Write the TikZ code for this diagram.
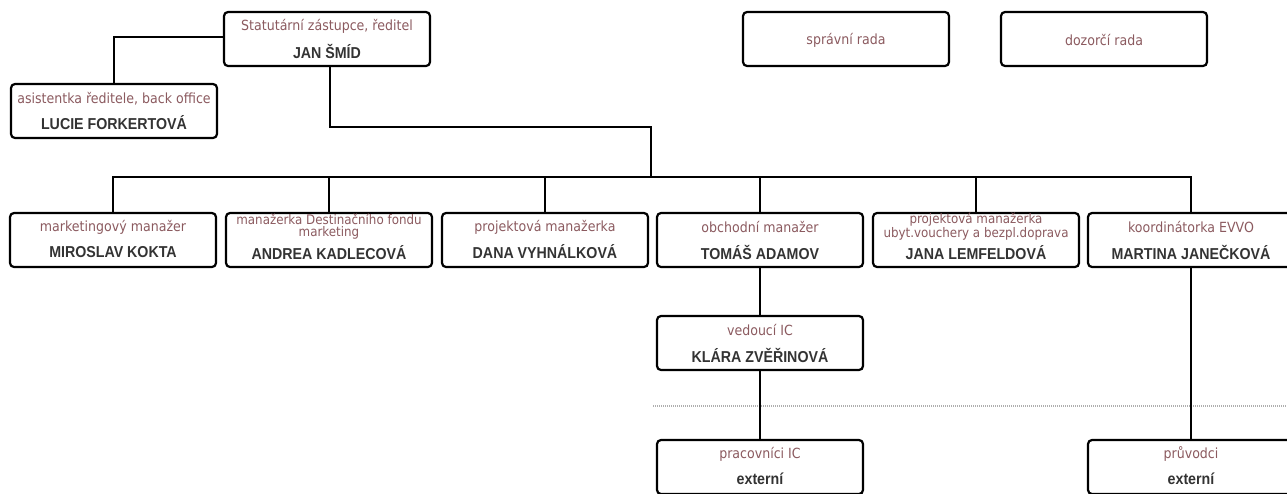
\documentclass[tikz,border=0pt]{standalone}
\usepackage{fontspec}
\setmainfont{Liberation Sans}
\newfontfamily\rolefont[FakeStretch=0.9]{DejaVu Sans}
\newfontfamily\namefont[FakeStretch=0.9]{Liberation Sans}
\definecolor{rolec}{RGB}{139,90,95}
\definecolor{namec}{RGB}{51,51,51}
\definecolor{dotc}{RGB}{175,175,175}
\begin{document}
\begin{tikzpicture}[x=1pt,y=-1pt,
  box/.style={draw, line width=2.2pt, rounded corners=4pt, minimum width=206pt, minimum height=54pt, inner sep=0pt},
  role/.style={font=\rolefont\fontsize{14}{11.5}\selectfont, text=rolec, inner sep=0pt, align=center},
  role2/.style={font=\rolefont\fontsize{13.2}{12.2}\selectfont, text=rolec, inner sep=0pt, align=center},
  pname/.style={font=\namefont\bfseries\fontsize{15.8}{15.8}\selectfont, text=namec, inner sep=0pt},
  conn/.style={line width=2.2pt, line join=miter},
  sep/.style={draw=dotc, line width=1.4pt, dash pattern=on 1pt off 1pt}]
\useasboundingbox (0,0) rectangle (1287,493);
\clip (0,0) rectangle (1287,493);
% top
\node[box] (ceo) at (327,39) {};
\node[role] (ceor) at (327,26) {Statutární zástupce, ředitel};
\node[pname] (ceon) at (327,51) {JAN ŠMÍD};
\node[box] (lf) at (114,111) {};
\node[role] (lfr) at (114,99) {asistentka ředitele, back office};
\node[pname] (lfn) at (114,123) {LUCIE FORKERTOVÁ};
\node[box] (sr) at (846,39) {};
\node[role] (srr) at (846,40) {správní rada};
\node[box] (dr) at (1104,39) {};
\node[role] (drr) at (1104,40) {dozorčí rada};
% row
\node[box] (mk) at (113,240) {};
\node[role] (mkr) at (113,227) {marketingový manažer};
\node[pname] (mkn) at (113,252) {MIROSLAV KOKTA};
\node[box] (ak) at (329,240) {};
\node[role2] (akr) at (329,226.5) {manažerka Destinačního fondu\\marketing};
\node[pname] (akn) at (329,253) {ANDREA KADLECOVÁ};
\node[box] (dv) at (545,240) {};
\node[role] (dvr) at (545,227) {projektová manažerka};
\node[pname] (dvn) at (545,252) {DANA VYHNÁLKOVÁ};
\node[box] (ta) at (760,240) {};
\node[role] (tar) at (760,227) {obchodní manažer};
\node[pname] (tan) at (760,252) {TOMÁŠ ADAMOV};
\node[box] (jl) at (976,240) {};
\node[role2] (jlr) at (976,226.5) {projektová manažerka\\ubyt.vouchery a bezpl.doprava};
\node[pname] (jln) at (976,253) {JANA LEMFELDOVÁ};
\node[box] (mj) at (1191,240) {};
\node[role] (mjr) at (1191,227) {koordinátorka EVVO};
\node[pname] (mjn) at (1191,252) {MARTINA JANEČKOVÁ};
% lower
\node[box] (kz) at (760,343) {};
\node[role] (kzr) at (760,330) {vedoucí IC};
\node[pname] (kzn) at (760,355) {KLÁRA ZVĚŘINOVÁ};
\node[box] (pi) at (760,467) {};
\node[role] (pir) at (760,454) {pracovníci IC};
\node[pname] (pin) at (760,479) {externí};
\node[box] (pv) at (1191,467) {};
\node[role] (pvr) at (1191,454) {průvodci};
\node[pname] (pvn) at (1191,479) {externí};
% connectors
\coordinate (bend) at (651,127);
\coordinate (bus) at (651,177);
\coordinate (sepL) at (653,406);
\coordinate (sepR) at (1287,406);
\draw[conn] (lf.north) |- ([yshift=2pt]ceo.west);
\draw[conn] ([xshift=3pt]ceo.south) |- (bend) -- (bus);
\draw[conn] (mk.north) -- (mk.north |- bus) -- (mj.north |- bus) -- (mj.north);
\draw[conn] (ak.north) -- (ak.north |- bus);
\draw[conn] (dv.north) -- (dv.north |- bus);
\draw[conn] (ta.north) -- (ta.north |- bus);
\draw[conn] (jl.north) -- (jl.north |- bus);
\draw[sep] (sepL) -- (sepR);
\draw[conn] (ta.south) -- (kz.north);
\draw[conn] (kz.south) -- (pi.north);
\draw[conn] (mj.south) -- (pv.north);
\end{tikzpicture}
\end{document}
